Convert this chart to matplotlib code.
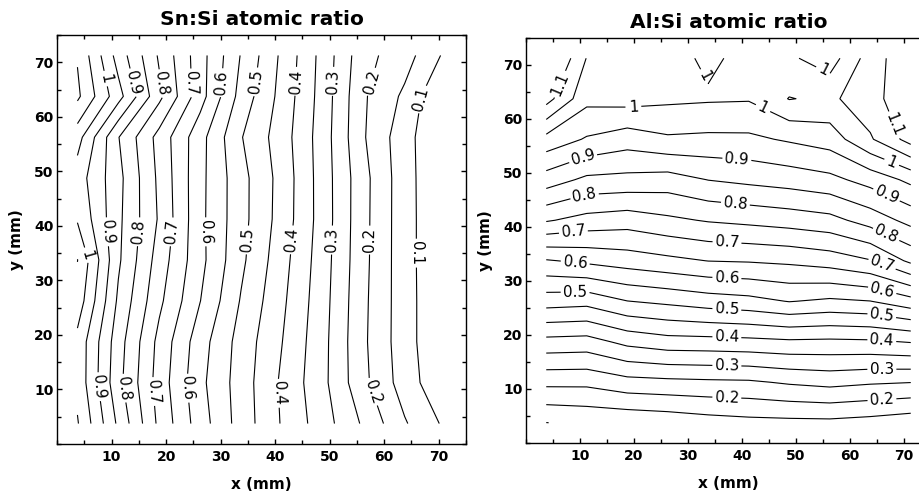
import numpy as np
import matplotlib
matplotlib.use("Agg")
import matplotlib.pyplot as plt
from matplotlib.ticker import MultipleLocator

# measurement grid (mm), same for both maps
grid_x = [3.75, 11.25, 18.75, 26.25, 33.75, 41.25, 48.75, 56.25, 63.75, 71.25]
grid_y = [3.75, 11.25, 18.75, 26.25, 33.75, 41.25, 48.75, 56.25, 63.75, 71.25]

# Sn:Si atomic ratio, one row per grid_y value (bottom to top)
sn_si = [
    [1.004, 0.840, 0.688, 0.574, 0.478, 0.396, 0.323, 0.242, 0.155, 0.090],
    [0.985, 0.815, 0.678, 0.563, 0.476, 0.392, 0.313, 0.212, 0.126, 0.057],
    [0.985, 0.822, 0.685, 0.572, 0.480, 0.401, 0.315, 0.208, 0.121, 0.050],
    [1.030, 0.841, 0.711, 0.601, 0.496, 0.410, 0.319, 0.210, 0.121, 0.050],
    [1.051, 0.858, 0.727, 0.615, 0.511, 0.419, 0.323, 0.213, 0.120, 0.050],
    [0.995, 0.861, 0.744, 0.613, 0.517, 0.429, 0.327, 0.214, 0.120, 0.050],
    [0.975, 0.865, 0.739, 0.614, 0.517, 0.431, 0.326, 0.215, 0.120, 0.048],
    [1.020, 0.852, 0.732, 0.618, 0.503, 0.424, 0.325, 0.204, 0.119, 0.045],
    [1.110, 0.969, 0.813, 0.671, 0.531, 0.433, 0.329, 0.206, 0.140, 0.042],
    [1.096, 0.929, 0.793, 0.671, 0.547, 0.440, 0.332, 0.216, 0.172, 0.090],
]

# Al:Si atomic ratio, one row per grid_y value (bottom to top)
al_si = [
    [0.0995, 0.108, 0.110, 0.117, 0.128, 0.135, 0.137, 0.138, 0.131, 0.119],
    [0.2125, 0.212, 0.2325, 0.2375, 0.241, 0.243, 0.256, 0.265, 0.256, 0.251],
    [0.334, 0.330, 0.364, 0.380, 0.382, 0.386, 0.392, 0.390, 0.3925, 0.403],
    [0.473, 0.467, 0.499, 0.511, 0.525, 0.534, 0.552, 0.541, 0.549, 0.581],
    [0.596, 0.6105, 0.624, 0.6375, 0.651, 0.654, 0.660, 0.673, 0.697, 0.761],
    [0.755, 0.732, 0.7225, 0.740, 0.754, 0.7625, 0.772, 0.784, 0.821, 0.866],
    [0.876, 0.839, 0.835, 0.828, 0.851, 0.862, 0.872, 0.886, 0.919, 0.962],
    [0.983, 0.945, 0.923, 0.9425, 0.939, 0.940, 0.956, 0.973, 1.044, 1.12],
    [1.12, 1.014, 1.02, 1.01, 1.006, 1.004, 1.052, 1.04, 1.08, 1.14],
    [1.18, 1.048, 1.03, 1.02, 0.99, 1.016, 1.008, 0.975, 1.074, 1.14],
]

# where the contour labels sit (mm)
sn_label_pos = [(9.4, 67.1), (13.7, 66.2), (19.9, 66.2), (24.5, 66.2), (30.9, 66.2),
                (35.7, 66.5), (44.0, 66.5), (50.7, 66.5), (57.4, 66.5), (67.8, 63.1),
                (5.7, 34.7), (9.1, 38.9), (15.2, 38.9), (21.0, 38.9), (26.8, 38.9),
                (35.1, 37.4), (43.4, 37.4), (50.4, 37.4), (57.1, 37.4), (65.7, 35.0),
                (7.6, 10.5), (12.0, 10.2), (17.4, 9.6), (23.5, 10.2), (40.6, 9.3), (57.1, 9.3)]
al_label_pos = [(8.1, 65.7), (19.9, 62.0), (32.8, 67.8), (43.6, 61.4), (54.8, 68.5),
                (67.4, 58.6), (67.4, 51.2),
                (10.3, 53.5), (39.0, 51.8), (66.2, 44.7),
                (10.9, 45.6), (38.7, 43.5), (66.5, 38.2),
                (8.8, 38.8), (37.2, 36.7), (65.9, 33.0),
                (9.1, 33.3), (37.2, 30.5), (65.9, 28.0),
                (9.1, 28.0), (37.2, 24.9), (65.9, 23.7),
                (37.2, 19.7), (65.9, 19.1),
                (37.2, 14.4), (65.9, 13.8),
                (37.2, 8.7), (65.9, 8.3)]

levels = np.round(np.arange(0.10, 1.101, 0.05), 2)
label_levels = levels[::2]
plain_levels = levels[1::2]


def fmt(v):
    return f"{v:.2f}".rstrip("0").rstrip(".")


def draw_map(ax, z, title, label_pos):
    z = np.array(z)
    ax.contour(grid_x, grid_y, z, levels=plain_levels,
               colors="black", linewidths=0.8)
    # labelled levels drawn separately (clabel + manual needs all levels labelled)
    cs = ax.contour(grid_x, grid_y, z, levels=label_levels,
                    colors="black", linewidths=0.8)
    ax.clabel(cs, inline=True, fmt=fmt, fontsize=11,
              inline_spacing=4, manual=label_pos)
    ax.set_xlim(0, 75)
    ax.set_ylim(0, 75)
    ax.set_xticks(range(10, 71, 10))
    ax.set_yticks(range(10, 71, 10))
    ax.xaxis.set_minor_locator(MultipleLocator(5))
    ax.yaxis.set_minor_locator(MultipleLocator(5))
    ax.tick_params(which="both", direction="in", top=True, right=True,
                   width=1, labelsize=10)
    ax.tick_params(which="major", length=3.8)
    ax.tick_params(which="minor", length=2.6)
    ax.tick_params(axis="x", pad=4)
    ax.tick_params(axis="y", pad=2.5)
    for lab in ax.get_xticklabels() + ax.get_yticklabels():
        lab.set_fontweight("bold")
    for sp in ax.spines.values():
        sp.set_linewidth(1.0)
    ax.set_title(title, fontsize=14.5, fontweight="bold", pad=7)
    ax.set_xlabel("x (mm)", fontsize=11, fontweight="bold", labelpad=10)
    ax.set_ylabel("y (mm)", fontsize=11, fontweight="bold", labelpad=7)


fig = plt.figure(figsize=(9.2, 4.93), dpi=100)
ax1 = fig.add_axes([57 / 920, 49 / 493, 409 / 920, 409 / 493])
ax2 = fig.add_axes([526 / 920, 50 / 493, 405 / 920, 405 / 493])

draw_map(ax1, sn_si, "Sn:Si atomic ratio", sn_label_pos)
draw_map(ax2, al_si, "Al:Si atomic ratio", al_label_pos)

fig.savefig("out.png", dpi=100)
